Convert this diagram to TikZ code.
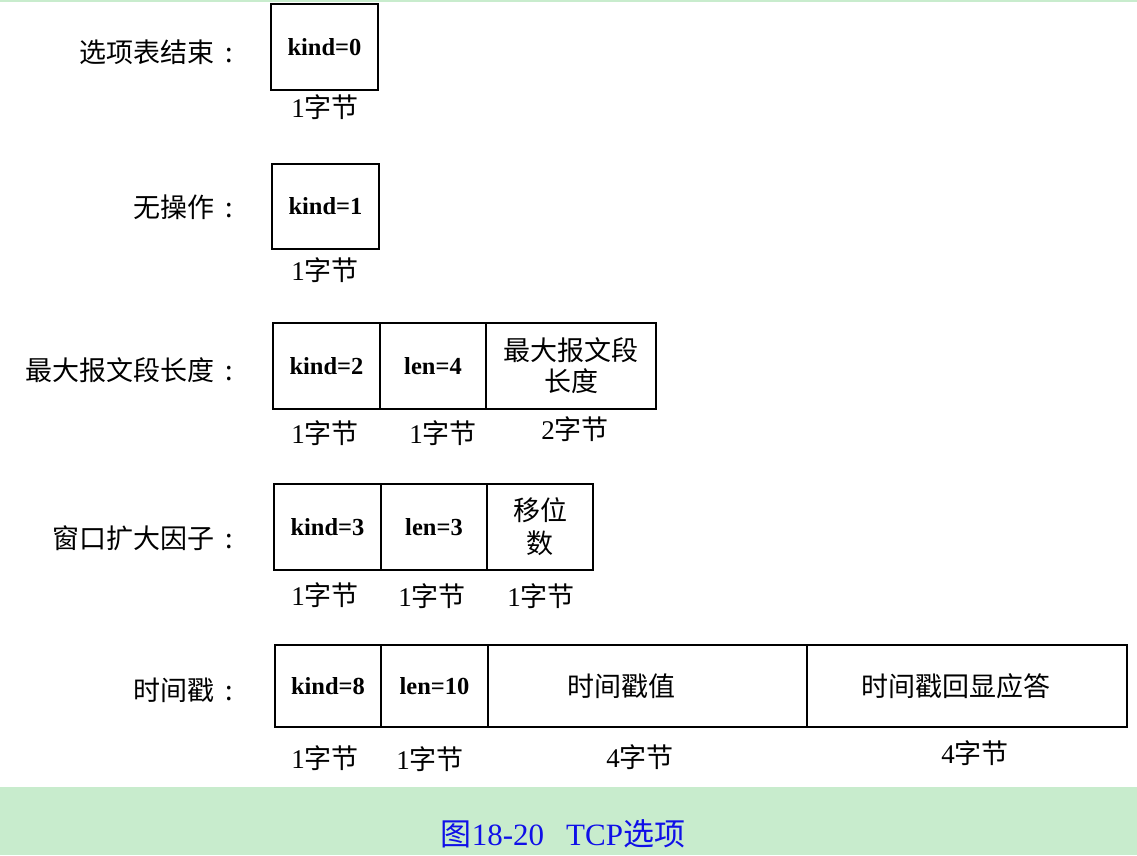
\documentclass[tikz,border=0pt]{standalone}
\usepackage{fontspec}
\setmainfont{Liberation Serif}
\newfontfamily\cjk{Noto Sans CJK SC}
\definecolor{bandgreen}{HTML}{C8ECCD}
\definecolor{capblue}{HTML}{1010E8}
\newcommand{\colonbox}{\makebox[1.1em][c]{:}}
\begin{document}
\begin{tikzpicture}[x=1pt,y=-1pt,
    cell/.style={draw,line width=1.4pt,outer sep=0pt,inner sep=0pt,
      font=\bfseries\fontsize{24.5}{30}\selectfont,align=center},
    bytes/.style={font=\fontsize{27}{30}\selectfont},
    optname/.style={anchor=east,font=\cjk\fontsize{27}{30}\selectfont}]
  \useasboundingbox (0,0) rectangle (1137,855);
  \fill[bandgreen] (0,0) rectangle (1137,2);
  \fill[bandgreen] (0,787) rectangle (1137,855);
  % end of option list
  \node[optname] (eol) at (248,52) {选项表结束\colonbox};
  \node[cell,minimum width=107pt,minimum height=86pt] (k0) at (324.5,47) {kind=0};
  \node[bytes] (b0) at (325,107) {1{\cjk 字节}};
  % no operation
  \node[optname] (nop) at (248,207) {无操作\colonbox};
  \node[cell,minimum width=107pt,minimum height=85pt] (k1) at (325.5,206.5) {kind=1};
  \node[bytes] (b1) at (325,270) {1{\cjk 字节}};
  % maximum segment size
  \node[optname] (mss) at (248,370) {最大报文段长度\colonbox};
  \node[cell,minimum width=107pt,minimum height=86pt] (k2) at (326.5,366) {kind=2};
  \node[cell,minimum width=106pt,minimum height=86pt] (l2) at (433,366) {len=4};
  \node[cell,minimum width=170pt,minimum height=86pt,font=\cjk\fontsize{27}{31}\selectfont] (v2) at (571,366) {最大报文段\\长度};
  \node[bytes] (b2a) at (325,433) {1{\cjk 字节}};
  \node[bytes] (b2b) at (443,433) {1{\cjk 字节}};
  \node[bytes] (b2c) at (575,429) {2{\cjk 字节}};
  % window scale factor
  \node[optname] (wsc) at (248,538) {窗口扩大因子\colonbox};
  \node[cell,minimum width=107pt,minimum height=86pt] (k3) at (327.5,527) {kind=3};
  \node[cell,minimum width=106pt,minimum height=86pt] (l3) at (434,527) {len=3};
  \node[cell,minimum width=106pt,minimum height=86pt,font=\cjk\fontsize{27}{33}\selectfont] (v3) at (540,527) {移位\\数};
  \node[bytes] (b3a) at (325,595) {1{\cjk 字节}};
  \node[bytes] (b3b) at (432,596) {1{\cjk 字节}};
  \node[bytes] (b3c) at (541,596) {1{\cjk 字节}};
  % timestamp
  \node[optname] (tsp) at (248,690) {时间戳\colonbox};
  \node[cell,minimum width=106pt,minimum height=82pt] (k8) at (328,686) {kind=8};
  \node[cell,minimum width=107pt,minimum height=82pt] (l8) at (434.5,686) {len=10};
  \node[cell,minimum width=319pt,minimum height=82pt,font=\cjk\fontsize{27}{30}\selectfont] (tsv) at (647.5,686) {时间戳值\hspace*{52pt}};
  \node[cell,minimum width=320pt,minimum height=82pt,font=\cjk\fontsize{27}{30}\selectfont] (tse) at (967,686) {时间戳回显应答\hspace*{22pt}};
  \node[bytes] (b8a) at (325,758) {1{\cjk 字节}};
  \node[bytes] (b8b) at (430,759) {1{\cjk 字节}};
  \node[bytes] (b8c) at (640,757) {4{\cjk 字节}};
  \node[bytes] (b8d) at (975,753) {4{\cjk 字节}};
  % caption
  \node[text=capblue,font=\fontsize{31}{33}\selectfont] (cap) at (563,834) {{\cjk 图}18-20\hspace{22pt}TCP{\cjk 选项}};
\end{tikzpicture}
\end{document}
